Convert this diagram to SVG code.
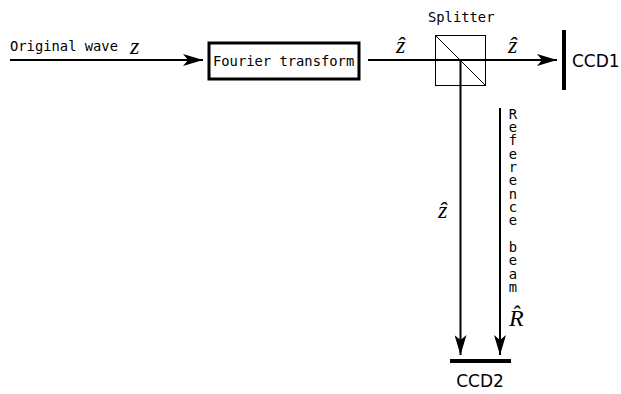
<svg xmlns="http://www.w3.org/2000/svg" width="621" height="394" viewBox="0 0 621 394">
<style>
.mono{font-family:"DejaVu Sans Mono","Liberation Mono",monospace;font-size:13.8px;fill:#000}
.sans{font-family:"DejaVu Sans","Liberation Sans",sans-serif;font-size:17px;fill:#000}
.math{font-family:"Liberation Serif","DejaVu Serif",serif;font-style:italic;font-size:24px;fill:#000}
.ln{stroke:#000;stroke-width:2;fill:none}
</style>
<defs>
<marker id="ah" viewBox="0 0 20 12" refX="20" refY="6" markerWidth="20" markerHeight="12" markerUnits="userSpaceOnUse" orient="auto">
<path d="M0,0 L20,6 L0,12 L5,6 Z" fill="#000"/>
</marker>
</defs>
<rect width="621" height="394" fill="#fff"/>
<g id="connectors">
<line class="ln" x1="10" y1="60" x2="203" y2="60" marker-end="url(#ah)"/>
<line class="ln" x1="368" y1="60" x2="557" y2="60" marker-end="url(#ah)"/>
<line class="ln" x1="460.5" y1="60" x2="460.5" y2="355" marker-end="url(#ah)"/>
<line class="ln" x1="500" y1="108" x2="500" y2="355" marker-end="url(#ah)"/>
</g>
<g id="input">
<text class="mono" x="10" y="51">Original wave</text>
<text class="math" x="130" y="54">z</text>
</g>
<g id="fourier">
<rect x="209" y="43" width="150" height="36" fill="#fff" stroke="#000" stroke-width="3"/>
<text class="mono" x="213" y="66">Fourier transform</text>
</g>
<text class="math" x="396" y="53">ẑ</text>
<g id="splitter">
<rect x="435.5" y="35.5" width="50" height="50" fill="none" stroke="#000" stroke-width="1"/>
<line x1="435.5" y1="35.5" x2="485.5" y2="85.5" stroke="#000" stroke-width="1"/>
<text class="mono" x="428" y="22" font-size="13">Splitter</text>
</g>
<text class="math" x="508" y="53">ẑ</text>
<g id="ccd1">
<rect x="562" y="30" width="4" height="60" fill="#000"/>
<text class="sans" x="572" y="67">CCD1</text>
</g>
<text class="math" x="438" y="218">ẑ</text>
<g id="reference">
<text class="mono" text-anchor="middle" font-size="12.5">
<tspan x="513" y="119">R</tspan><tspan x="513" y="132">e</tspan><tspan x="513" y="145">f</tspan><tspan x="513" y="159">e</tspan><tspan x="513" y="172">r</tspan><tspan x="513" y="185">e</tspan><tspan x="513" y="199">n</tspan><tspan x="513" y="212">c</tspan><tspan x="513" y="225">e</tspan><tspan x="513" y="252">b</tspan><tspan x="513" y="265">e</tspan><tspan x="513" y="279">a</tspan><tspan x="513" y="292">m</tspan>
</text>
<text class="math" x="509" y="326">R̂</text>
</g>
<g id="ccd2">
<rect x="450" y="359" width="61" height="4" fill="#000"/>
<text class="sans" x="480" y="387" text-anchor="middle">CCD2</text>
</g>
</svg>
